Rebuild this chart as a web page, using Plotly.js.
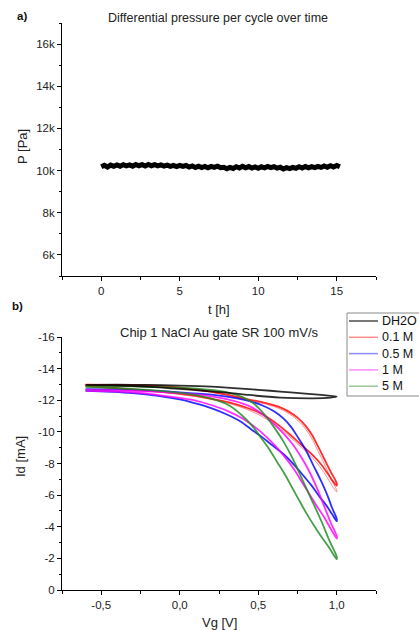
<!DOCTYPE html>
<html>
<head>
<meta charset="utf-8">
<script src="https://cdn.plot.ly/plotly-3.0.1.min.js"></script>
<style>html,body{margin:0;padding:0;background:#fff;}#chart{width:419px;height:630px;}</style>
</head>
<body>
<div id="chart"></div>
<script>
// ---- Panel a) data ----
const timeH = [0.0,0.2,0.4,0.6,0.8,1.0,1.2,1.4,1.6,1.8,2.0,2.2,2.4,2.6,2.8,3.0,3.2,3.4,3.6,3.8,4.0,4.2,4.4,4.6,4.8,5.0,5.2,5.4,5.6,5.8,6.0,6.2,6.4,6.6,6.8,7.0,7.2,7.4,7.6,7.8,8.0,8.2,8.4,8.6,8.8,9.0,9.2,9.4,9.6,9.8,10.0,10.2,10.4,10.6,10.8,11.0,11.2,11.4,11.6,11.8,12.0,12.2,12.4,12.6,12.8,13.0,13.2,13.4,13.6,13.8,14.0,14.2,14.4,14.6,14.8,15.0,15.2];
const pressurePa = [10180,10250,10170,10260,10200,10270,10210,10280,10220,10270,10210,10290,10230,10280,10220,10290,10230,10280,10220,10270,10210,10260,10200,10250,10190,10250,10200,10240,10170,10220,10150,10210,10140,10200,10130,10200,10150,10210,10140,10160,10090,10150,10100,10180,10120,10200,10130,10190,10120,10170,10110,10180,10130,10200,10140,10190,10120,10160,10080,10140,10090,10150,10110,10180,10120,10190,10130,10190,10140,10200,10150,10220,10160,10230,10170,10240,10180];
const pTickVals = [6000,8000,10000,12000,14000,16000];
const pTickText = ['6k','8k','10k','12k','14k','16k'];
const tTickVals = [0,5,10,15];
const tTickText = ['0','5','10','15'];

// ---- Panel b) data (forward sweep -0.6 -> 1.0, then return sweep 1.0 -> -0.6) ----
const dh2oVg = [-0.6,-0.4,-0.2,0.0,0.2,0.32,0.5,0.64,0.8,0.9,0.96,1.0, 0.96,0.85,0.64,0.43,0.3,0.15,0.0,-0.2,-0.4,-0.6];
const dh2oId = [-12.97,-12.98,-12.97,-12.93,-12.86,-12.78,-12.66,-12.55,-12.42,-12.34,-12.28,-12.23, -12.16,-12.12,-12.17,-12.34,-12.48,-12.6,-12.72,-12.85,-12.93,-12.97];

const m01Vg = [-0.6,-0.3,0.0,0.2,0.35,0.45,0.55,0.64,0.7,0.75,0.8,0.84,0.88,0.92,0.96,1.0, 1.0,0.97,0.94,0.9,0.85,0.8,0.75,0.7,0.64,0.57,0.5,0.42,0.32,0.2,0.05,-0.2,-0.6];
const m01Id = [-12.98,-12.95,-12.8,-12.55,-12.25,-12.03,-11.82,-11.55,-11.25,-10.9,-10.4,-9.85,-9.1,-8.3,-7.5,-6.75, -6.6,-6.95,-7.4,-7.95,-8.5,-8.95,-9.4,-9.85,-10.35,-10.85,-11.25,-11.55,-11.85,-12.1,-12.35,-12.6,-12.9];
const m01bVg = [-0.6,-0.3,0.0,0.2,0.35,0.45,0.55,0.64,0.7,0.75,0.8,0.84,0.88,0.92,0.96,1.0, 1.0,0.97,0.94,0.9,0.85,0.8,0.75,0.7,0.64,0.57,0.5,0.42,0.32,0.2,0.05,-0.2,-0.6];
const m01bId = [-12.95,-12.9,-12.75,-12.5,-12.2,-11.97,-11.75,-11.45,-11.12,-10.75,-10.2,-9.6,-8.8,-8.0,-7.1,-6.3, -6.2,-6.6,-7.1,-7.7,-8.3,-8.8,-9.25,-9.7,-10.2,-10.7,-11.1,-11.45,-11.78,-12.05,-12.3,-12.58,-12.88];

const m05Vg = [-0.6,-0.3,0.0,0.2,0.32,0.42,0.52,0.6,0.66,0.71,0.75,0.8,0.85,0.9,0.94,0.97,1.0, 1.0,0.97,0.93,0.89,0.84,0.79,0.73,0.66,0.59,0.52,0.45,0.38,0.3,0.2,0.1,0.0,-0.3,-0.6];
const m05Id = [-12.7,-12.65,-12.5,-12.35,-12.2,-12.0,-11.7,-11.3,-10.85,-10.3,-9.7,-8.9,-7.9,-6.9,-6.0,-5.2,-4.5, -4.35,-4.8,-5.4,-5.9,-6.6,-7.2,-7.9,-8.6,-9.15,-9.7,-10.2,-10.7,-11.1,-11.5,-11.8,-12.05,-12.45,-12.6];

const m1Vg = [-0.6,-0.3,0.0,0.2,0.35,0.45,0.53,0.6,0.66,0.72,0.78,0.83,0.88,0.92,0.96,1.0, 1.0,0.96,0.92,0.88,0.83,0.78,0.73,0.67,0.61,0.55,0.48,0.4,0.31,0.2,0.1,0.0,-0.3,-0.6];
const m1Id = [-12.65,-12.6,-12.45,-12.25,-11.95,-11.6,-11.1,-10.5,-9.9,-9.2,-8.3,-7.4,-6.3,-5.3,-4.3,-3.4, -3.25,-3.9,-4.6,-5.2,-6.0,-6.8,-7.6,-8.4,-9.1,-9.7,-10.3,-10.85,-11.3,-11.7,-11.98,-12.15,-12.5,-12.6];

const m5Vg = [-0.6,-0.3,0.0,0.2,0.3,0.4,0.47,0.54,0.6,0.66,0.72,0.78,0.84,0.9,0.95,1.0, 1.0,0.95,0.9,0.86,0.81,0.77,0.72,0.67,0.62,0.57,0.52,0.46,0.39,0.31,0.2,0.05,-0.2,-0.6];
const m5Id = [-12.9,-12.88,-12.8,-12.65,-12.5,-12.2,-11.8,-11.1,-10.3,-9.4,-8.3,-7.0,-5.7,-4.4,-3.2,-2.1, -1.95,-2.7,-3.4,-4.0,-4.8,-5.5,-6.4,-7.3,-8.1,-8.9,-9.6,-10.4,-11.1,-11.7,-12.1,-12.4,-12.65,-12.85];

const seriesNames = ['DH2O','0.1 M','0.5 M','1 M','5 M'];
const seriesColors = ['#000000','#ff0000','#0000ff','#ff00ff','#1f8a1f'];
const idTickVals = [0,-2,-4,-6,-8,-10,-12,-14,-16];
const idTickText = ['0','-2','-4','-6','-8','-10','-12','-14','-16'];
const vgTickVals = [-0.5,0,0.5,1.0];
const vgTickText = ['-0,5','0,0','0,5','1,0'];

const FONT = 'Liberation Sans, Arial, sans-serif';
const W = 419, H = 630;
const px = v => v / W;
const py = v => 1 - v / H;

function loop(x, y, i, extra) {
  return Object.assign({
    x: x, y: y, xaxis: 'x2', yaxis: 'y2', type: 'scatter', mode: 'lines',
    name: seriesNames[i], showlegend: false, hoverinfo: 'skip',
    line: {color: seriesColors[i], width: 1.8, shape: 'spline', smoothing: 1},
    opacity: 0.82
  }, extra || {});
}

const traces = [
  {x: timeH, y: pressurePa, type: 'scatter', mode: 'lines', xaxis: 'x', yaxis: 'y',
   line: {color: '#000', width: 5}, showlegend: false, hoverinfo: 'skip'},
  loop(m01bVg, m01bId, 1, {opacity: 0.45, line: {color: seriesColors[1], width: 1, shape: 'spline', smoothing: 1}}),
  loop(m01Vg, m01Id, 1),
  loop(m05Vg, m05Id, 2),
  loop(m1Vg, m1Id, 3),
  loop(m5Vg, m5Id, 4),
  loop(dh2oVg, dh2oId, 0)
];

// legend (drawn in paper space, entries built from the series arrays)
const legLeft = 347, legTop = 313, legBottom = 396, legRow0 = 321, legStep = 16.3;
const shapes = [
  {type: 'rect', xref: 'paper', yref: 'paper', x0: px(legLeft), x1: px(422), y0: py(legTop), y1: py(legBottom),
   line: {color: '#8a8a8a', width: 1}, fillcolor: '#fff', layer: 'above'}
];
const legendAnn = [];
seriesNames.forEach((n, i) => {
  const yy = legRow0 + i * legStep;
  shapes.push({type: 'line', xref: 'paper', yref: 'paper', x0: px(349), x1: px(378), y0: py(yy), y1: py(yy),
    line: {color: seriesColors[i], width: 1.5}, opacity: i === 0 ? 0.7 : 0.45, layer: 'above'});
  legendAnn.push({text: n, x: px(380), y: py(yy), xref: 'paper', yref: 'paper', xanchor: 'left', yanchor: 'middle',
    showarrow: false, font: {family: FONT, size: 12.5, color: '#111'}});
});

const axCommon = {
  showline: true, linecolor: '#000', linewidth: 1, mirror: false,
  ticks: 'outside', ticklen: 4, tickwidth: 1, tickcolor: '#000',
  showgrid: false, zeroline: false, fixedrange: true,
  tickfont: {family: FONT, size: 11.5, color: '#222'}
};

const layout = {
  width: W, height: H,
  margin: {l: 0, r: 0, t: 0, b: 0, autoexpand: false},
  paper_bgcolor: '#fff', plot_bgcolor: '#fff',
  showlegend: false,
  xaxis: Object.assign({}, axCommon, {
    domain: [px(62), px(376)], anchor: 'y', range: [-2.5, 17.5],
    tickmode: 'array', tickvals: tTickVals, ticktext: tTickText,
    minor: {ticks: 'outside', ticklen: 2.5, tickcolor: '#000', tickmode: 'linear', tick0: 0, dtick: 2.5, showgrid: false}
  }),
  yaxis: Object.assign({}, axCommon, {
    domain: [py(276), py(23)], anchor: 'x', range: [5000, 17000],
    tickmode: 'array', tickvals: pTickVals, ticktext: pTickText,
    minor: {ticks: 'outside', ticklen: 2.5, tickcolor: '#000', tickmode: 'linear', tick0: 0, dtick: 1000, showgrid: false}
  }),
  xaxis2: Object.assign({}, axCommon, {
    domain: [px(62), px(376)], anchor: 'y2', range: [-0.75, 1.25],
    tickmode: 'array', tickvals: vgTickVals, ticktext: vgTickText,
    minor: {ticks: 'outside', ticklen: 2.5, tickcolor: '#000', tickmode: 'linear', tick0: 0, dtick: 0.25, showgrid: false}
  }),
  yaxis2: Object.assign({}, axCommon, {
    domain: [py(590), py(337)], anchor: 'x2', range: [0, -16],
    tickmode: 'array', tickvals: idTickVals, ticktext: idTickText,
    minor: {ticks: 'outside', ticklen: 2.5, tickcolor: '#000', tickmode: 'linear', tick0: 0, dtick: 1, showgrid: false}
  }),
  shapes: shapes,
  annotations: [
    {text: '<b>a)</b>', x: px(15), y: py(16), xref: 'paper', yref: 'paper', xanchor: 'left', yanchor: 'middle', showarrow: false, font: {family: FONT, size: 11.5, color: '#111'}},
    {text: 'Differential pressure per cycle over time', x: px(218), y: py(18), xref: 'paper', yref: 'paper', xanchor: 'center', yanchor: 'middle', showarrow: false, font: {family: FONT, size: 12.5, color: '#222'}},
    {text: 'P [Pa]', x: px(22), y: py(147), xref: 'paper', yref: 'paper', xanchor: 'center', yanchor: 'middle', textangle: -90, showarrow: false, font: {family: FONT, size: 13, color: '#222'}},
    {text: 't [h]', x: px(219), y: py(309), xref: 'paper', yref: 'paper', xanchor: 'center', yanchor: 'middle', showarrow: false, font: {family: FONT, size: 13, color: '#222'}},
    {text: '<b>b)</b>', x: px(10), y: py(306), xref: 'paper', yref: 'paper', xanchor: 'left', yanchor: 'middle', showarrow: false, font: {family: FONT, size: 11.5, color: '#111'}},
    {text: 'Chip 1 NaCl Au gate SR 100 mV/s', x: px(219), y: py(332), xref: 'paper', yref: 'paper', xanchor: 'center', yanchor: 'middle', showarrow: false, font: {family: FONT, size: 13, color: '#222'}},
    {text: 'Id [mA]', x: px(20), y: py(457), xref: 'paper', yref: 'paper', xanchor: 'center', yanchor: 'middle', textangle: -90, showarrow: false, font: {family: FONT, size: 13, color: '#222'}},
    {text: 'Vg [V]', x: px(219), y: py(622), xref: 'paper', yref: 'paper', xanchor: 'center', yanchor: 'middle', showarrow: false, font: {family: FONT, size: 13, color: '#222'}}
  ].concat(legendAnn)
};

Plotly.newPlot('chart', traces, layout, {staticPlot: true, displayModeBar: false});
</script>
</body>
</html>
